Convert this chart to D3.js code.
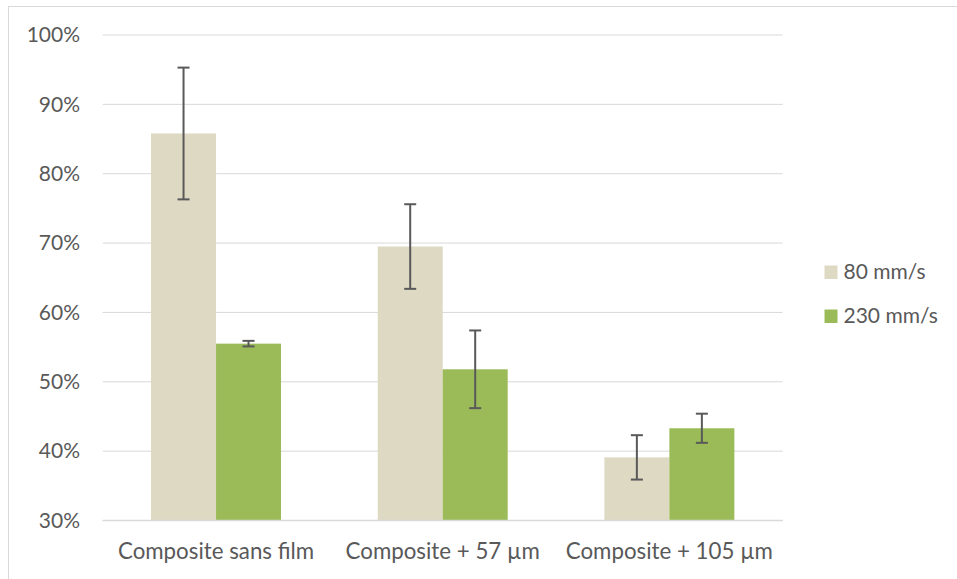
<!DOCTYPE html>
<html><head><meta charset="utf-8">
<script src="https://cdn.jsdelivr.net/npm/d3@7"></script>
<style>body{margin:0;background:#fff}svg{display:block}text{font-family:Lato,"Open Sans",sans-serif;fill:#595959}</style>
</head><body><svg id="c" width="957" height="579"></svg>
<script>
const categories = ["Composite sans film", "Composite + 57 µm", "Composite + 105 µm"];
const seriesNames = ["80 mm/s", "230 mm/s"];
const values80 = [85.8, 69.5, 39.1];
const values230 = [55.5, 51.8, 43.3];
const err80 = [9.5, 6.1, 3.2];
const err230 = [0.4, 5.6, 2.1];
const yTicks = [30, 40, 50, 60, 70, 80, 90, 100];
const colors = ["#DDD9C3", "#9BBB59"];

(function () {
const svg = d3.select("#c");
const FS = 21;
svg.append("rect").attr("x", 8.5).attr("y", 6.5).attr("width", 960).attr("height", 600)
  .attr("fill", "none").attr("stroke", "#d9d9d9").attr("stroke-width", 1);

const pL = 102.7, pR = 782.7, pT = 35, pB = 520.5;
const x0 = d3.scaleBand().domain(categories).range([pL, pR]).paddingInner(0.4265).paddingOuter(0.21325);
const x1 = d3.scaleBand().domain([0, 1]).range([0, x0.bandwidth()]);
const y = d3.scaleLinear().domain([30, 100]).range([pB, pT]);

svg.append("g").selectAll("line").data(yTicks).join("line")
  .attr("x1", pL).attr("x2", pR).attr("y1", d => y(d)).attr("y2", d => y(d))
  .attr("stroke", "#d9d9d9").attr("stroke-width", 1);

svg.append("g").selectAll("text").data(yTicks).join("text")
  .attr("x", 80).attr("y", d => y(d)).attr("dy", "0.35em").attr("text-anchor", "end")
  .attr("font-size", FS).text(d => d + "%");

const data = categories.map((c, i) => ({c, vals: [values80[i], values230[i]], errs: [err80[i], err230[i]]}));

const g = svg.append("g").selectAll("g").data(data).join("g")
  .attr("transform", d => `translate(${x0(d.c)},0)`);

g.selectAll("rect").data(d => d.vals.map((v, k) => ({v, k}))).join("rect")
  .attr("x", d => x1(d.k)).attr("width", x1.bandwidth())
  .attr("y", d => y(d.v)).attr("height", d => y(30) - y(d.v))
  .attr("fill", d => colors[d.k]);

const eb = g.selectAll("g.e").data(d => d.vals.map((v, k) => ({v, k, e: d.errs[k]}))).join("g").attr("class", "e");
const cx = d => x1(d.k) + x1.bandwidth() / 2;
eb.append("line").attr("x1", cx).attr("x2", cx)
  .attr("y1", d => y(d.v + d.e)).attr("y2", d => y(d.v - d.e)).attr("stroke", "#595959").attr("stroke-width", 2);
[1, -1].forEach(s => {
  eb.append("line").attr("x1", d => cx(d) - 6).attr("x2", d => cx(d) + 6)
    .attr("y1", d => y(d.v + s * d.e)).attr("y2", d => y(d.v + s * d.e))
    .attr("stroke", "#595959").attr("stroke-width", 2);
});

svg.append("line").attr("x1", pL).attr("x2", pR).attr("y1", y(30)).attr("y2", y(30))
  .attr("stroke", "#d9d9d9").attr("stroke-width", 1.5);

svg.append("g").selectAll("text").data(categories).join("text")
  .attr("x", d => x0(d) + x0.bandwidth() / 2).attr("y", 558.5).attr("text-anchor", "middle")
  .attr("font-size", 22.3).text(d => d);

const leg = svg.append("g").selectAll("g").data(seriesNames).join("g")
  .attr("transform", (d, i) => `translate(824.5,${265.5 + i * 44})`);
leg.append("rect").attr("width", 13).attr("height", 13.5).attr("fill", (d, i) => colors[i]);
leg.append("text").attr("x", 19).attr("y", 13.5).attr("font-size", FS).text(d => d);
})();
</script></body></html>
